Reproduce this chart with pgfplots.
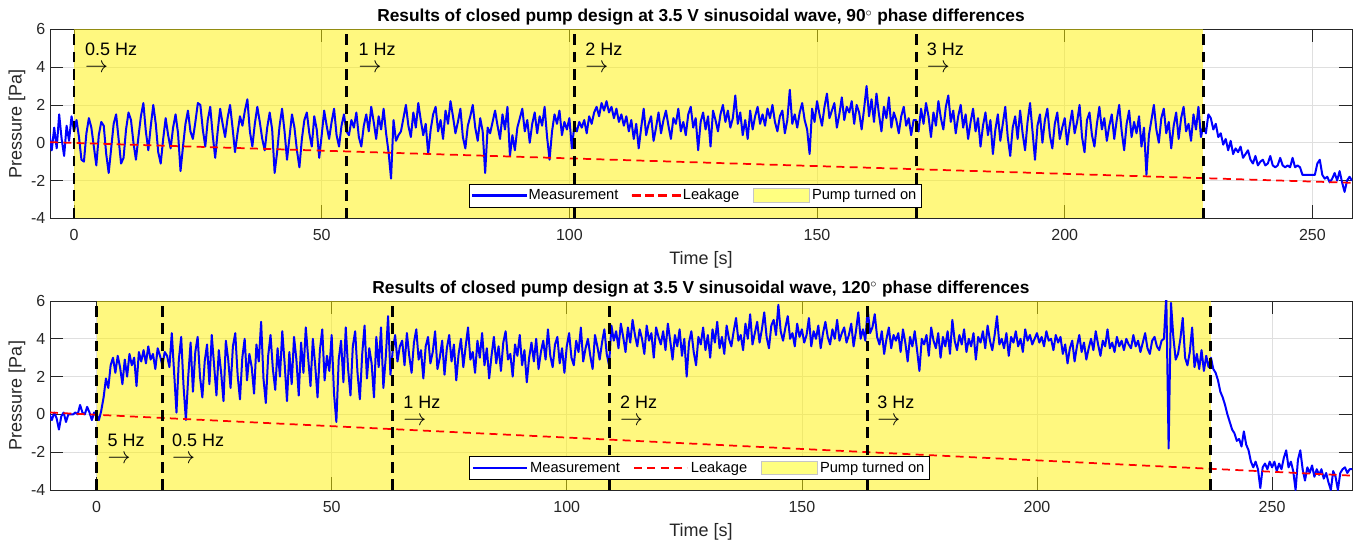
\documentclass[border=0pt]{standalone}
\usepackage{fontspec}
\setmainfont{Liberation Sans}
\usepackage{pgfplots}
\pgfplotsset{compat=1.18}
\definecolor{axgray}{RGB}{38,38,38}
\definecolor{gridgray}{RGB}{223,223,223}
\definecolor{pumpyellow}{RGB}{255,255,128}
\newcommand{\arr}{{\fontsize{16}{12.5}\selectfont$\rightarrow$}}
\tikzset{ann/.style={anchor=west, align=left, inner sep=0pt, font=\fontsize{13.5}{12.5}\selectfont}}
\pgfplotsset{
  mylegend/.style={
    legend columns=3,
    legend cell align=left,
    legend style={anchor=south west, font=\fontsize{11}{13}\selectfont, draw, fill=white, inner sep=2pt, /tikz/every even column/.append style={column sep=8pt}},
  },
  myaxis/.style={
    scale only axis, width=976.5pt, height=141.75pt,
    ymin=-4, ymax=6, ytick={-4,-2,...,6}, xtick={0,50,...,250},
    grid=major, major grid style={gridgray, line width=0.5pt},
    tick align=inside, major tick length=9.75pt,
    tick style={axgray, line width=0.5pt},
    axis line style={axgray, line width=0.6pt},
    ticklabel style={font=\fontsize{12}{14}\selectfont, text=axgray},
    xticklabel style={yshift=-5pt},
    /pgf/number format/assume math mode=true,
    xlabel={Time [s]}, ylabel={Pressure [Pa]},
    label style={font=\fontsize{13.5}{16}\selectfont, text=axgray},
    xlabel style={at={(axis description cs:0.5,-0.221)}, anchor=center},
    ylabel style={at={(axis description cs:-0.0254,0.5)}, anchor=center},
    title style={at={(axis description cs:0.5,1.063)}, anchor=center, yshift=-6pt, font=\bfseries\fontsize{13}{15}\selectfont},
    mylegend,
  },
  meas/.style={draw=blue, color=blue, line width=1.5pt, line join=round, legend image code/.code={\draw[draw=blue, line width=1.5pt, solid] (0pt,0pt) -- (40pt,0pt);}},
  leak/.style={draw=red, color=red, dash pattern=on 6pt off 4pt, line width=1.3pt, legend image code/.code={\draw[draw=red, dash pattern=on 6pt off 4pt, line width=1.3pt] (0pt,0pt) -- (40pt,0pt);}},
  vline/.style={draw=black, dash pattern=on 8pt off 5pt, line width=2.2pt, forget plot},
  pump/.style={fill=yellow, fill opacity=0.5, draw=none, forget plot},
  pumplegend/.style={legend image code/.code={\draw[fill=pumpyellow, draw=gray!45, line width=0.6pt] (0pt,-5pt) rectangle (42pt,5pt);}},
  measleg/.style={legend image code/.code={\fill[blue] (0pt,-0.75pt) rectangle (40pt,0.75pt);}},
  leakleg/.style={legend image code/.code={\fill[red] (0pt,-0.65pt) rectangle (6pt,0.65pt) (10pt,-0.65pt) rectangle (16pt,0.65pt) (20pt,-0.65pt) rectangle (26pt,0.65pt) (30pt,-0.65pt) rectangle (36pt,0.65pt);}},
}
\begin{document}
\begin{tikzpicture}
\useasboundingbox (0,0) rectangle (1019.25pt,407.25pt);
% ---------------- top axis ----------------
\begin{axis}[myaxis, at={(37.5pt,243.5pt)}, anchor=south west,
  xmin=-4.85, xmax=258,
  title={Results of closed pump design at 3.5 V sinusoidal wave, 90$^{\circ}$ phase differences}]
\addplot[pump] coordinates {(0,-4) (0,6) (228,6) (228,-4)} -- cycle;
\addplot[meas] coordinates {
(-5,0.5) (-4.5,-0.4) (-4,0.8) (-3.5,-0.3) (-3,1.5) (-2.5,0.2) (-2,-0.7) (-1.5,0.9) (-1,0.1) (-0.5,1.4)
(0,0.6) (0.5,1.2) (1,0.3) (1.5,-0.9) (2,-1.0) (2.5,0.5) (3,1.3) (3.5,0.8) (4,-0.2) (4.5,-1.2)
(5,0.4) (5.5,1.1) (6,0.9) (6.5,-0.6) (7,-1.6) (7.5,-0.3) (8,1.0) (8.5,1.5) (9,0.2) (9.5,-1.1)
(10,-0.8) (10.5,0.7) (11,1.6) (11.5,1.2) (12,0.0) (12.5,-0.9) (13,0.3) (13.5,1.4) (14,2.1) (14.5,0.6)
(15,-0.4) (15.5,0.9) (16,2.0) (16.5,1.0) (17,-0.5) (17.5,-1.1) (18,0.2) (18.5,1.3) (19,0.4) (19.5,-0.3)
(20,0.8) (20.5,1.5) (21,0.5) (21.5,-1.5) (22,-0.2) (22.5,1.0) (23,1.7) (23.5,0.6) (24,0.2) (24.5,1.1)
(25,2.1) (25.5,2.0) (26,0.7) (26.5,-0.2) (27,1.2) (27.5,1.9) (28,0.4) (28.5,-0.8) (29,0.6) (29.5,1.8)
(30,1.0) (30.5,0.3) (31,1.3) (31.5,2.0) (32,0.8) (32.5,-0.5) (33,0.5) (33.5,1.4) (34,0.9) (34.5,1.7)
(35,2.3) (35.5,0.6) (36,-0.2) (36.5,1.0) (37,1.9) (37.5,1.1) (38,0.2) (38.5,-0.4) (39,0.8) (39.5,1.6)
(40,0.7) (40.5,-1.6) (41,-0.5) (41.5,0.9) (42,1.8) (42.5,0.6) (43,-0.9) (43.5,0.3) (44,1.5) (44.5,0.8)
(45,-0.4) (45.5,-1.3) (46,0.2) (46.5,1.2) (47,1.6) (47.5,0.5) (48,-0.2) (48.5,1.4) (49,0.7) (49.5,-0.8)
(50,0.4) (50.5,1.7) (51,0.9) (51.5,0.2) (52,1.1) (52.5,1.8) (53,0.4) (53.5,-0.2) (54,0.9) (54.5,1.5)
(55,0.6) (55.5,0.4) (56,1.2) (56.5,0.8) (57,1.6) (57.5,0.3) (58,-0.2) (58.5,0.9) (59,1.5) (59.5,0.6)
(60,1.9) (60.5,1.1) (61,0.2) (61.5,1.4) (62,0.7) (62.5,1.8) (63,0.5) (63.5,-0.5) (64,-1.9) (64.5,1.2)
(65,0.1) (65.5,0.4) (66,0.6) (66.5,1.3) (67,2.0) (67.5,0.9) (68,0.3) (68.5,1.6) (69,0.8) (69.5,2.1)
(70,1.2) (70.5,0.4) (71,1.0) (71.5,-0.6) (72,0.7) (72.5,1.5) (73,1.9) (73.5,0.6) (74,1.2) (74.5,0.2)
(75,1.7) (75.5,1.0) (76,2.2) (76.5,1.4) (77,0.5) (77.5,1.1) (78,1.8) (78.5,0.3) (79,-0.3) (79.5,0.9)
(80,1.4) (80.5,2.0) (81,0.8) (81.5,0.1) (82,1.3) (82.5,0.6) (83,-1.6) (83.5,0.8) (84,0.5) (84.5,1.1)
(85,1.7) (85.5,0.9) (86,0.2) (86.5,1.5) (87,0.7) (87.5,1.9) (88,-0.7) (88.5,0.4) (89,-0.4) (89.5,0.8)
(90,1.3) (90.5,1.8) (91,0.6) (91.5,1.2) (92,0.0) (92.5,1.0) (93,1.6) (93.5,0.5) (94,1.4) (94.5,0.9)
(95,1.9) (95.5,0.3) (96,-0.9) (96.5,0.6) (97,1.5) (97.5,1.0) (98,1.7) (98.5,0.4) (99,1.1) (99.5,0.7)
(100,1.3) (100.5,-0.3) (101,0.9) (101.5,0.6) (102,1.1) (102.5,0.8) (103,1.2) (103.5,0.5) (104,1.4) (104.5,1.0)
(105,1.6) (105.5,1.9) (106,1.4) (106.5,2.1) (107,1.7) (107.5,2.2) (108,1.6) (108.5,1.9) (109,1.3) (109.5,1.8)
(110,1.1) (110.5,1.5) (111,0.9) (111.5,1.4) (112,0.6) (112.5,1.2) (113,0.2) (113.5,1.0) (114,-0.3) (114.5,0.8)
(115,1.8) (115.5,0.4) (116,1.0) (116.5,1.4) (117,0.1) (117.5,0.8) (118,1.6) (118.5,0.5) (119,1.2) (119.5,1.7)
(120,0.9) (120.5,0.2) (121,1.3) (121.5,1.0) (122,1.8) (122.5,0.6) (123,1.1) (123.5,0.4) (124,1.5) (124.5,1.9)
(125,0.8) (125.5,1.3) (126,-0.4) (126.5,1.1) (127,1.6) (127.5,0.7) (128,1.4) (128.5,-0.2) (129,1.7) (129.5,1.2)
(130,0.6) (130.5,1.5) (131,2.0) (131.5,1.1) (132,1.7) (132.5,0.8) (133,1.3) (133.5,2.5) (134,1.0) (134.5,1.6)
(135,0.4) (135.5,1.2) (136,0.2) (136.5,1.7) (137,0.7) (137.5,1.4) (138,1.9) (138.5,1.0) (139,1.5) (139.5,0.9)
(140,1.8) (140.5,1.3) (141,2.0) (141.5,1.1) (142,0.6) (142.5,1.4) (143,1.7) (143.5,0.5) (144,1.2) (144.5,2.8)
(145,1.0) (145.5,1.5) (146,0.8) (146.5,1.6) (147,2.1) (147.5,1.2) (148,0.7) (148.5,-0.6) (149,1.8) (149.5,1.1)
(150,2.2) (150.5,1.5) (151,0.9) (151.5,1.9) (152,2.6) (152.5,1.3) (153,1.7) (153.5,2.1) (154,0.8) (154.5,1.5)
(155,2.4) (155.5,1.2) (156,1.9) (156.5,1.6) (157,2.2) (157.5,1.0) (158,2.0) (158.5,1.6) (159,0.7) (159.5,1.8)
(160,3.0) (160.5,1.4) (161,2.3) (161.5,1.1) (162,2.6) (162.5,1.5) (163,0.6) (163.5,1.9) (164,1.3) (164.5,2.4)
(165,0.8) (165.5,1.6) (166,1.2) (166.5,0.5) (167,1.4) (167.5,1.9) (168,0.9) (168.5,1.3) (169,0.4) (169.5,1.2)
(170,1.2) (170.5,0.6) (171,1.8) (171.5,1.0) (172,2.1) (172.5,1.4) (173,0.3) (173.5,1.6) (174,0.9) (174.5,2.2)
(175,1.3) (175.5,0.7) (176,1.9) (176.5,2.5) (177,1.1) (177.5,1.7) (178,0.5) (178.5,1.4) (179,2.0) (179.5,0.8)
(180,1.5) (180.5,0.2) (181,1.1) (181.5,1.8) (182,0.6) (182.5,1.3) (183,-0.2) (183.5,0.9) (184,1.6) (184.5,0.4)
(185,1.2) (185.5,-0.6) (186,0.7) (186.5,1.5) (187,0.1) (187.5,1.0) (188,1.9) (188.5,0.3) (189,-0.7) (189.5,0.8)
(190,1.4) (190.5,0.2) (191,1.7) (191.5,0.5) (192,-0.4) (192.5,1.1) (193,2.1) (193.5,0.6) (194,-0.9) (194.5,0.9)
(195,1.5) (195.5,0.0) (196,1.2) (196.5,1.8) (197,0.4) (197.5,-0.3) (198,1.0) (198.5,1.6) (199,0.2) (199.5,0.8)
(200,1.3) (200.5,-0.1) (201,0.9) (201.5,1.7) (202,0.5) (202.5,1.1) (203,2.0) (203.5,0.3) (204,-0.5) (204.5,1.2)
(205,1.6) (205.5,0.4) (206,-0.2) (206.5,1.0) (207,1.9) (207.5,0.7) (208,1.3) (208.5,0.1) (209,0.9) (209.5,1.5)
(210,0.2) (210.5,1.2) (211,2.0) (211.5,0.6) (212,-0.4) (212.5,1.0) (213,1.7) (213.5,0.3) (214,1.1) (214.5,0.5)
(215,1.4) (215.5,-0.2) (216,0.8) (216.5,-1.7) (217,0.4) (217.5,1.2) (218,2.0) (218.5,0.7) (219,0.0) (219.5,1.3)
(220,1.8) (220.5,0.5) (221,1.1) (221.5,-0.3) (222,0.9) (222.5,1.6) (223,0.2) (223.5,1.3) (224,1.9) (224.5,0.6)
(225,1.0) (225.5,0.1) (226,1.5) (226.5,0.7) (227,1.9) (227.5,0.3) (228,0.9) (228.5,0.5) (229,1.5) (229.5,1.3)
(230,0.7) (230.5,1.0) (231,0.3) (231.5,0.5) (232,-0.1) (232.5,0.2) (233,-0.4) (233.5,0.1) (234,-0.6) (234.5,-0.3)
(235,-0.5) (235.5,-0.2) (236,-0.8) (236.5,-0.6) (237,-0.4) (237.5,-0.9) (238,-1.1) (238.5,-0.7) (239,-1.2) (239.5,-1.0)
(240,-0.9) (240.5,-1.2) (241,-1.1) (241.5,-0.7) (242,-1.2) (242.5,-1.3) (243,-1.2) (243.5,-0.8) (244,-1.2) (244.5,-1.3)
(245,-1.2) (245.5,-1.3) (246,-0.8) (246.5,-1.3) (247,-1.2) (247.5,-1.3) (248,-1.7) (248.5,-1.7) (249,-1.7) (249.5,-1.7)
(250,-1.7) (250.5,-1.7) (251,-1.1) (251.5,-0.9) (252,-1.7) (252.5,-1.9) (253,-1.8) (253.5,-2.1) (254,-1.9) (254.5,-1.6)
(255,-2.0) (255.5,-1.5) (256,-2.1) (256.5,-2.6) (257,-2.0) (257.5,-1.8) (258,-2.0)
};
\addplot[leak] coordinates {(-4.85,0.03) (258,-2.12)};
\addplot[vline] coordinates {(0,-4) (0,6)};
\addplot[vline] coordinates {(55,-4) (55,6)};
\addplot[vline] coordinates {(101,-4) (101,6)};
\addplot[vline] coordinates {(170,-4) (170,6)};
\addplot[vline] coordinates {(228,-4) (228,6)};
\node[ann] at (axis cs:2.2,4.5) {0.5 Hz\\\arr};
\node[ann] at (axis cs:57.4,4.5) {1 Hz\\\arr};
\node[ann] at (axis cs:103.2,4.5) {2 Hz\\\arr};
\node[ann] at (axis cs:172.1,4.5) {3 Hz\\\arr};
\end{axis}
% ---------------- bottom axis ----------------
\begin{axis}[myaxis, at={(37.5pt,39.75pt)}, anchor=south west,
  xmin=-9.9, xmax=267,
  title={Results of closed pump design at 3.5 V sinusoidal wave, 120$^{\circ}$ phase differences},
  legend style={at={(0.322,0.053)}}]
\addplot[pump] coordinates {(0,-4) (0,6) (237,6) (237,-4)} -- cycle;
\addplot[meas] coordinates {
(-10,0.0) (-9.5,-0.3) (-9,0.1) (-8.5,-0.2) (-8,-0.8) (-7.5,-0.1) (-7,0.1) (-6.5,-0.4) (-6,0.0) (-5.5,0.0)
(-5,0.0) (-4.5,0.1) (-4,0.0) (-3.5,0.5) (-3,0.1) (-2.5,0.0) (-2,0.4) (-1.5,0.1) (-1,-0.3) (-0.5,0.1)
(0,0.0) (0.5,-0.3) (1,0.2) (1.5,0.9) (2,1.9) (2.5,1.4) (3,2.6) (3.5,3.0) (4,2.2) (4.5,3.1)
(5,2.5) (5.5,1.6) (6,2.9) (6.5,2.0) (7,3.2) (7.5,2.6) (8,3.0) (8.5,1.5) (9,3.3) (9.5,2.8)
(10,3.4) (10.5,2.7) (11,3.6) (11.5,2.9) (12,3.2) (12.5,2.4) (13,3.5) (13.5,3.1) (14,2.6) (14.5,3.3)
(15,3.1) (15.5,2.5) (16,4.3) (16.5,2.2) (17,0.1) (17.5,2.9) (18,4.1) (18.5,1.5) (19,-0.3) (19.5,2.0)
(20,3.8) (20.5,1.2) (21,3.3) (21.5,4.1) (22,2.0) (22.5,0.9) (23,2.8) (23.5,3.7) (24,1.6) (24.5,4.2)
(25,2.6) (25.5,1.0) (26,3.4) (26.5,2.2) (27,0.7) (27.5,3.9) (28,2.9) (28.5,1.4) (29,3.6) (29.5,4.3)
(30,2.1) (30.5,0.8) (31,3.0) (31.5,4.0) (32,1.8) (32.5,3.2) (33,2.5) (33.5,1.1) (34,3.7) (34.5,2.8)
(35,4.9) (35.5,1.9) (36,0.6) (36.5,3.1) (37,4.2) (37.5,2.4) (38,1.3) (38.5,3.5) (39,2.0) (39.5,4.4)
(40,2.7) (40.5,0.7) (41,3.3) (41.5,1.6) (42,4.1) (42.5,2.9) (43,1.0) (43.5,3.8) (44,2.2) (44.5,4.6)
(45,3.0) (45.5,1.5) (46,4.0) (46.5,2.6) (47,0.9) (47.5,3.4) (48,4.5) (48.5,1.8) (49,3.1) (49.5,2.3)
(50,4.2) (50.5,1.1) (51,-0.4) (51.5,2.9) (52,3.9) (52.5,1.7) (53,4.6) (53.5,2.4) (54,1.0) (54.5,3.6)
(55,4.4) (55.5,2.2) (56,0.8) (56.5,3.2) (57,4.7) (57.5,1.9) (58,3.5) (58.5,2.7) (59,0.9) (59.5,4.1)
(60,2.5) (60.5,4.6) (61,1.4) (61.5,3.0) (62,5.2) (62.5,2.1) (63,3.4) (63.5,4.2) (64,2.8) (64.5,3.6)
(65,3.9) (65.5,2.6) (66,4.3) (66.5,3.1) (67,2.2) (67.5,3.8) (68,4.5) (68.5,2.9) (69,3.4) (69.5,1.9)
(70,3.6) (70.5,4.1) (71,2.7) (71.5,3.3) (72,4.4) (72.5,2.4) (73,3.0) (73.5,3.9) (74,2.1) (74.5,3.5)
(75,4.2) (75.5,2.8) (76,3.7) (76.5,1.8) (77,3.2) (77.5,4.0) (78,2.5) (78.5,3.6) (79,4.6) (79.5,2.9)
(80,3.3) (80.5,2.2) (81,3.9) (81.5,3.0) (82,4.3) (82.5,2.6) (83,3.5) (83.5,1.9) (84,3.1) (84.5,4.1)
(85,2.7) (85.5,3.6) (86,2.3) (86.5,3.8) (87,4.4) (87.5,2.9) (88,3.2) (88.5,2.0) (89,3.7) (89.5,3.1)
(90,4.2) (90.5,2.6) (91,3.4) (91.5,1.7) (92,3.0) (92.5,3.8) (93,2.8) (93.5,4.0) (94,2.4) (94.5,3.3)
(95,3.9) (95.5,2.9) (96,4.5) (96.5,3.1) (97,2.5) (97.5,3.7) (98,4.1) (98.5,2.7) (99,3.5) (99.5,2.2)
(100,3.6) (100.5,4.3) (101,3.0) (101.5,2.6) (102,3.9) (102.5,3.3) (103,4.6) (103.5,2.8) (104,3.5) (104.5,4.0)
(105,3.1) (105.5,2.4) (106,4.2) (106.5,3.6) (107,2.9) (107.5,3.8) (108,4.5) (108.5,3.2) (109,2.6) (109.5,4.7)
(110,3.9) (110.5,4.4) (111,3.5) (111.5,4.8) (112,4.1) (112.5,3.3) (113,4.6) (113.5,3.8) (114,5.0) (114.5,4.2)
(115,3.6) (115.5,4.5) (116,4.0) (116.5,3.2) (117,4.7) (117.5,3.9) (118,4.3) (118.5,3.0) (119,4.6) (119.5,4.1)
(120,3.7) (120.5,4.4) (121,3.4) (121.5,4.8) (122,3.9) (122.5,2.9) (123,4.2) (123.5,3.6) (124,4.5) (124.5,3.1)
(125,4.0) (125.5,2.0) (126,3.8) (126.5,4.4) (127,3.3) (127.5,2.6) (128,4.1) (128.5,3.7) (129,4.6) (129.5,3.4)
(130,4.2) (130.5,3.0) (131,4.5) (131.5,3.8) (132,4.9) (132.5,3.5) (133,4.1) (133.5,3.2) (134,4.7) (134.5,4.0)
(135,3.6) (135.5,4.4) (136,5.1) (136.5,3.9) (137,4.2) (137.5,3.4) (138,4.8) (138.5,4.0) (139,5.3) (139.5,3.7)
(140,4.3) (140.5,4.9) (141,3.8) (141.5,4.5) (142,5.4) (142.5,4.1) (143,3.5) (143.5,4.7) (144,5.0) (144.5,4.2)
(145,5.8) (145.5,4.4) (146,3.9) (146.5,4.6) (147,5.2) (147.5,4.0) (148,4.3) (148.5,3.6) (149,4.8) (149.5,4.1)
(150,4.5) (150.5,3.8) (151,4.2) (151.5,5.1) (152,3.6) (152.5,4.4) (153,4.0) (153.5,4.7) (154,3.5) (154.5,4.3)
(155,4.9) (155.5,4.1) (156,3.7) (156.5,4.5) (157,4.0) (157.5,5.0) (158,3.9) (158.5,4.3) (159,4.6) (159.5,3.8)
(160,4.2) (160.5,4.8) (161,3.6) (161.5,4.4) (162,5.4) (162.5,4.0) (163,4.5) (163.5,3.9) (164,5.6) (164.5,4.3)
(165,4.6) (165.5,5.3) (166,4.1) (166.5,3.7) (167,4.4) (167.5,3.2) (168,4.0) (168.5,4.6) (169,3.5) (169.5,4.2)
(170,3.9) (170.5,4.3) (171,3.3) (171.5,4.5) (172,3.8) (172.5,2.8) (173,4.1) (173.5,3.6) (174,4.4) (174.5,3.4)
(175,2.3) (175.5,4.0) (176,3.7) (176.5,4.2) (177,3.1) (177.5,4.6) (178,3.9) (178.5,3.5) (179,4.3) (179.5,3.0)
(180,4.1) (180.5,3.6) (181,4.4) (181.5,3.2) (182,5.0) (182.5,3.9) (183,3.4) (183.5,4.2) (184,3.7) (184.5,4.5)
(185,3.3) (185.5,4.0) (186,3.6) (186.5,4.3) (187,2.9) (187.5,4.1) (188,3.8) (188.5,4.4) (189,3.5) (189.5,4.7)
(190,3.9) (190.5,3.4) (191,4.2) (191.5,5.2) (192,3.7) (192.5,4.0) (193,3.5) (193.5,4.3) (194,3.1) (194.5,4.1)
(195,3.8) (195.5,4.4) (196,3.6) (196.5,4.0) (197,3.3) (197.5,4.5) (198,3.9) (198.5,4.2) (199,3.7) (199.5,4.0)
(200,4.3) (200.5,3.8) (201,4.1) (201.5,3.6) (202,4.4) (202.5,3.9) (203,4.0) (203.5,3.4) (204,4.2) (204.5,3.8)
(205,4.1) (205.5,3.2) (206,3.7) (206.5,2.7) (207,3.5) (207.5,3.9) (208,2.8) (208.5,3.6) (209,4.2) (209.5,3.3)
(210,3.8) (210.5,2.9) (211,3.5) (211.5,4.0) (212,3.4) (212.5,4.4) (213,3.7) (213.5,3.1) (214,3.9) (214.5,3.6)
(215,4.5) (215.5,3.5) (216,3.8) (216.5,3.3) (217,4.1) (217.5,3.6) (218,3.9) (218.5,3.4) (219,4.0) (219.5,3.7)
(220,3.5) (220.5,4.2) (221,3.6) (221.5,3.9) (222,3.3) (222.5,3.8) (223,4.3) (223.5,3.5) (224,3.2) (224.5,3.9)
(225,4.1) (225.5,3.6) (226,3.4) (226.5,3.9) (227,4.0) (227.5,6.3) (228,-1.8) (228.5,5.9) (229,4.1) (229.5,2.9)
(230,3.2) (230.5,4.0) (231,5.1) (231.5,3.0) (232,2.6) (232.5,3.3) (233,4.6) (233.5,2.5) (234,3.2) (234.5,2.4)
(235,3.4) (235.5,2.3) (236,3.1) (236.5,2.5) (237,3.0) (237.5,2.4) (238,2.2) (238.5,1.8) (239,1.2) (239.5,0.9)
(240,0.5) (240.5,0.0) (241,-0.4) (241.5,-0.8) (242,-1.0) (242.5,-1.4) (243,-1.3) (243.5,-1.7) (244,-0.9) (244.5,-1.6)
(245,-1.9) (245.5,-2.5) (246,-2.8) (246.5,-2.5) (247,-2.9) (247.5,-3.9) (248,-2.8) (248.5,-2.6) (249,-2.9) (249.5,-2.5)
(250,-2.8) (250.5,-2.5) (251,-3.0) (251.5,-2.6) (252,-2.9) (252.5,-2.3) (253,-1.9) (253.5,-2.8) (254,-2.5) (254.5,-3.0)
(255,-4.0) (255.5,-2.4) (256,-1.9) (256.5,-2.9) (257,-3.5) (257.5,-2.8) (258,-3.1) (258.5,-2.7) (259,-3.3) (259.5,-2.9)
(260,-3.2) (260.5,-2.9) (261,-3.4) (261.5,-3.1) (262,-3.6) (262.5,-4.0) (263,-3.0) (263.5,-3.3) (264,-4.0) (264.5,-3.1)
(265,-2.9) (265.5,-2.8) (266,-3.1) (266.5,-2.9) (267,-2.9)
};
\addplot[leak] coordinates {(-9.9,0.10) (267,-3.24)};
\addplot[vline] coordinates {(0,-4) (0,6)};
\addplot[vline] coordinates {(14,-4) (14,6)};
\addplot[vline] coordinates {(63,-4) (63,6)};
\addplot[vline] coordinates {(109,-4) (109,6)};
\addplot[vline] coordinates {(164,-4) (164,6)};
\addplot[vline] coordinates {(237,-4) (237,6)};
\addlegendimage{pumplegend}
\legend{Measurement, Leakage, Pump turned on}
\node[ann] at (axis cs:2.3,-1.82) {5 Hz\\\arr};
\node[ann] at (axis cs:16.0,-1.82) {0.5 Hz\\\arr};
\node[ann] at (axis cs:65.2,0.2) {1 Hz\\\arr};
\node[ann] at (axis cs:111.3,0.2) {2 Hz\\\arr};
\node[ann] at (axis cs:166.0,0.2) {3 Hz\\\arr};
\end{axis}
% ---------------- legend of the top plot (drawn last, over the top axis) ----------------
\begin{axis}[at={(37.5pt,243.5pt)}, anchor=south west, scale only axis,
  width=976.5pt, height=141.75pt, hide axis,
  xmin=0, xmax=1, ymin=0, ymax=1,
  mylegend, legend style={at={(0.322,0.058)}}]
\addlegendimage{measleg}
\addlegendimage{leakleg}
\addlegendimage{pumplegend}
\legend{Measurement, Leakage, Pump turned on}
\end{axis}
\end{tikzpicture}
\end{document}
